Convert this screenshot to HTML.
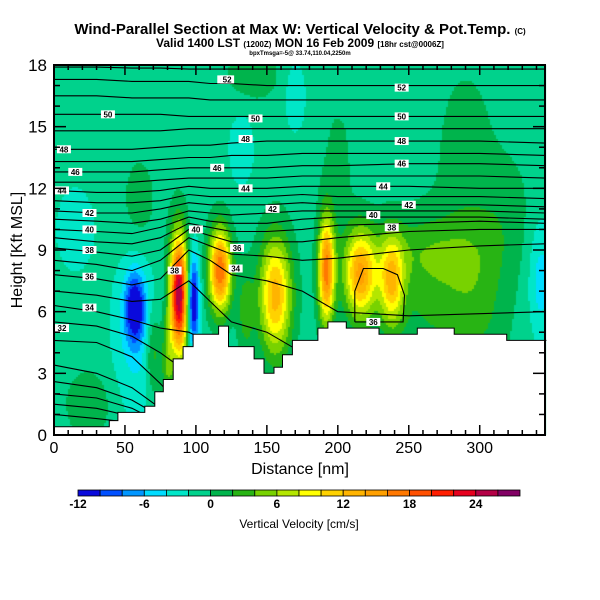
<!DOCTYPE html>
<html><head><meta charset="utf-8">
<style>
body{margin:0;background:#fff;width:600px;height:600px;overflow:hidden;font-family:"Liberation Sans",sans-serif;}
#wrap{position:relative;width:600px;height:600px;}
canvas{position:absolute;left:0;top:0;}
svg{position:absolute;left:0;top:0;}
</style></head>
<body>
<div id="wrap">
<canvas id="cv" width="600" height="600"></canvas>
<svg id="sv" width="600" height="600" xmlns="http://www.w3.org/2000/svg">
<text x="300" y="34" text-anchor="middle" font-size="15" font-weight="bold">Wind-Parallel Section at Max W: Vertical Velocity &amp; Pot.Temp. <tspan font-size="8">(C)</tspan></text>
<text x="300" y="47" text-anchor="middle" font-size="12" font-weight="bold">Valid 1400 LST <tspan font-size="8">(1200Z)</tspan> MON 16 Feb 2009 <tspan font-size="8">[18hr cst@0006Z]</tspan></text>
<text x="300" y="55" text-anchor="middle" font-size="6" font-weight="bold">bpxTmsga=-5@ 33.74,110.04,2250m</text>
<text x="300" y="474" text-anchor="middle" font-size="16">Distance [nm]</text>
<text transform="translate(22,250) rotate(-90)" text-anchor="middle" font-size="16">Height [Kft MSL]</text>
<text x="299" y="528" text-anchor="middle" font-size="12">Vertical Velocity [cm/s]</text>
</svg>
</div>
<script>
// ---- data ----
const colorLevels=[-12,-10,-8,-6,-4,-2,0,2,4,6,8,10,12,14,16,18,20,22,24,26,28];
const colorHex=["#0a0adc","#0050ff","#0096ff","#00dcff","#00e6c8","#00d28c","#00b44c","#28b414","#78d200","#b4e600","#ffff00","#ffd200","#ffb400","#ffa000","#ff7800","#ff5000","#ff1e00","#e6001e","#b40046","#820064"];
const colorbarTicks=[-12,-6,0,6,12,18,24];
const xTicks=[0,50,100,150,200,250,300];
const yTicks=[0,3,6,9,12,15,18];
const background=-1;
const blobX=[88,98,117,57,58,70,80,156,192,216,238,270,300,343,135,25,132,170,15,200,290,320,140,60,260];
const blobZ=[6.8,6.5,8.0,6.2,5.0,4.0,3.5,6.8,8.0,7.8,7.5,7.0,7.0,7.5,6.0,1.5,13.9,16.5,10.0,13,14,11,17.5,11,9];
const blobAmp=[27,-13,19,-10,-3.5,5,5,14,18,15,12,3.5,2.5,-4,4,2.5,-3,-3,-2.5,1.6,1.8,1.6,2,2,2.5];
const blobSX=[4.5,3,5.5,5,12,4,3,8,4,8,6,25,15,6,4,12,6,5,10,8,15,12,15,10,30];
const blobSZ=[2.0,1.6,1.4,1.2,3,1.5,1.5,2.0,1.8,1.5,1.5,2.5,3,2,1.5,1.2,1.2,1.2,1.5,2.5,3,2,1,2,1.2];
// terrain (nm, km)
const terrainX=[0,39,39,45,45,64,64,71,71,77,77,84,84,91,91,98,98,116,116,123,123,141,141,148,148,155,155,161,161,168,168,186,186,193,193,206,206,229,229,256,256,282,282,319,319,344,344,347];
const terrainZ=[0.4,0.4,0.7,0.7,1.1,1.1,1.4,1.4,2.1,2.1,2.7,2.7,3.7,3.7,4.3,4.3,4.9,4.9,5.3,5.3,4.3,4.3,3.7,3.7,3.0,3.0,3.3,3.3,3.9,3.9,4.6,4.6,5.2,5.2,5.5,5.5,5.2,5.2,4.9,4.9,5.2,5.2,4.9,4.9,4.6,4.6,4.6,4.6];
// potential temperature contours
const thetaNodes=[0,30,55,75,95,110,125,150,175,200,250,300,346];
const thetaLevels=[27,28,29,30,31,32,33,34,35,36,37,38,39,40,41,42,43,44,45,46,47,48,49,50,51,52,53];
const thetaZ=[
[1.0,0.8,0.6,-1,-1,-1,-1,-1,-1,-1,-1,-1,-1],
[1.5,1.3,0.9,0.2,-1,-1,-1,-1,-1,-1,-1,-1,-1],
[2.0,1.8,1.3,0.6,-1,-1,-1,-1,-1,-1,-1,-1,-1],
[2.6,2.3,1.7,0.9,-1,-1,-1,-1,-1,-1,-1,-1,-1],
[3.4,3.0,2.3,1.3,-1,-1,-1,-1,-1,-1,-1,-1,-1],
[4.6,4.5,3.8,2.5,1.0,-1,-1,-1,-1,-1,-1,-1,-1],
[5.5,5.3,4.8,4.0,3.0,2,-1,-1,-1,-1,-1,-1,-1],
[6.3,6.0,5.6,5.2,5.0,4.5,3,-1,-1,-1,-1,-1,-1],
[7.0,6.8,6.5,6.6,7.5,6.5,5.5,5,4,-1,-1,-1,-1],
[7.8,7.6,7.3,7.6,9.0,8.5,7.8,7.5,7.0,6.0,5.8,5.9,6.0],
[8.5,8.3,8.0,8.5,9.6,9.2,8.8,8.7,8.5,8.6,9.0,9.2,9.3],
[9.1,8.9,8.7,9.0,10.0,9.7,9.4,9.4,9.4,9.6,9.9,10.0,10.0],
[9.6,9.4,9.3,9.6,10.3,10.1,9.9,9.9,10.0,10.2,10.3,10.4,10.3],
[10.0,9.9,9.8,10.1,10.6,10.4,10.3,10.3,10.5,10.6,10.6,10.6,10.5],
[10.5,10.4,10.3,10.5,10.9,10.8,10.7,10.8,10.9,10.9,10.9,10.9,10.8],
[10.9,10.8,10.8,11.0,11.3,11.2,11.2,11.2,11.3,11.2,11.2,11.2,11.1],
[11.4,11.3,11.3,11.4,11.7,11.6,11.6,11.6,11.7,11.6,11.6,11.6,11.5],
[11.9,11.8,11.8,11.9,12.1,12.0,12.0,12.0,12.1,12.1,12.1,12.0,12.0],
[12.3,12.3,12.3,12.4,12.5,12.5,12.5,12.5,12.6,12.6,12.6,12.6,12.5],
[12.8,12.8,12.8,12.9,13.0,13.0,13.0,13.0,13.1,13.1,13.2,13.2,13.1],
[13.3,13.3,13.3,13.4,13.5,13.5,13.6,13.6,13.7,13.7,13.7,13.7,13.6],
[13.9,13.9,13.9,14.0,14.1,14.1,14.2,14.3,14.3,14.3,14.3,14.3,14.2],
[14.8,14.8,14.8,14.8,14.9,14.9,14.9,14.9,14.9,14.9,14.9,14.9,14.9],
[15.6,15.6,15.6,15.6,15.5,15.5,15.5,15.5,15.5,15.5,15.5,15.5,15.5],
[16.5,16.5,16.4,16.4,16.4,16.3,16.3,16.3,16.3,16.3,16.3,16.3,16.3],
[17.3,17.3,17.2,17.2,17.2,17.1,17.1,17.0,17.0,17.0,17.0,17.0,17.0],
[17.9,17.9,17.85,17.85,17.8,17.8,17.8,17.8,17.8,17.8,17.8,17.8,17.8]];
const loopX=[212,212,218,232,242,247,246,212];
const loopZ=[5.5,7.0,8.1,8.1,7.8,6.8,5.5,5.5];
const labelTheta=["32","34","36","38","40","42","44","46","48","50","52","38","40","42","44","46","48","50","52","36","38","40","42","44","46","48","50","52","34","36"];
const labelX=[5,25,25,25,25,25,-8,15,7,38,120,85,100,154,135,115,135,142,122,225,238,225,250,232,245,245,245,245,128,129];
const labelZ=[5.2,6.2,7.7,9.0,10.0,10.8,11.9,12.8,13.9,15.6,17.3,8.0,10.0,11.0,12.0,13.0,14.4,15.4,17.3,5.5,10.1,10.7,11.2,12.1,13.2,14.3,15.5,16.9,8.1,9.1];

// ---- axes ----
const X0=54,X1=545,Y0=435,Y1=65,XMAX=346,ZMAX=18;
const sx=v=>X0+(v/XMAX)*(X1-X0);
const sy=v=>Y0-(v/ZMAX)*(Y0-Y1);
function field(x,z){let v=background;for(let i=0;i<blobX.length;i++){const dx=(x-blobX[i])/blobSX[i],dz=(z-blobZ[i])/blobSZ[i];v+=blobAmp[i]*Math.exp(-0.5*(dx*dx+dz*dz));}return v;}
function colorFor(v){let k=0;while(k<colorHex.length-1&&v>=colorLevels[k+1])k++;return colorHex[k];}
const cv=document.getElementById('cv');const ctx=cv.getContext('2d');
const S=2;
for(let px=X0;px<X1;px+=S){for(let py=Y1;py<Y0;py+=S){const x=(px+S/2-X0)/(X1-X0)*XMAX;const z=(Y0-(py+S/2))/(Y0-Y1)*ZMAX;ctx.fillStyle=colorFor(field(x,z));ctx.fillRect(px,py,S,S);}}
const NS='http://www.w3.org/2000/svg';const sv=document.getElementById('sv');
function mk(tag,attrs){const e=document.createElementNS(NS,tag);for(const k in attrs)e.setAttribute(k,attrs[k]);sv.appendChild(e);return e;}
// contours
for(let i=0;i<thetaLevels.length;i++){let d='';let pen=false;for(let j=0;j<thetaNodes.length;j++){const z=thetaZ[i][j];if(z<0){pen=false;continue;}d+=(pen?'L':'M')+sx(thetaNodes[j]).toFixed(1)+' '+sy(z).toFixed(1);pen=true;}
const p=mk('path',{d:d,fill:'none',stroke:'#000','stroke-width':1.1});

}
{let d='';for(let j=0;j<loopX.length;j++)d+=(j?'L':'M')+sx(loopX[j]).toFixed(1)+' '+sy(loopZ[j]).toFixed(1);
const p=mk('path',{d:d,fill:'none',stroke:'#000','stroke-width':1.1});

}
// terrain
{let d='M'+sx(terrainX[0])+' '+Y0;for(let j=0;j<terrainX.length;j++)d+='L'+sx(terrainX[j]).toFixed(1)+' '+sy(terrainZ[j]).toFixed(1);d+='L'+X1+' '+sy(terrainZ[terrainZ.length-1])+'L'+X1+' '+Y0+'Z';
const p=mk('path',{d:d,fill:'#fff',stroke:'#000','stroke-width':1});

}
// labels
for(let i=0;i<labelTheta.length;i++){const x=Math.max(X0+8,sx(labelX[i])),y=sy(labelZ[i]);
const r=mk('rect',{x:x-7,y:y-4,width:14,height:8,fill:'#fff'});


const t=mk('text',{x:x,y:y+3,'text-anchor':'middle','font-size':8,'font-weight':'bold'});t.textContent=labelTheta[i];

}
// frame & ticks
{const f=mk('rect',{x:X0,y:Y1,width:X1-X0,height:Y0-Y1,fill:'none',stroke:'#000','stroke-width':2});

}
for(let v=0;v<=XMAX;v+=10){const L=v%50===0?10:5;const x=sx(v);
const a=mk('line',{x1:x,y1:Y0,x2:x,y2:Y0-L,stroke:'#000','stroke-width':1.5});


const b=mk('line',{x1:x,y1:Y1,x2:x,y2:Y1+L,stroke:'#000','stroke-width':1.5});

}
for(let v=0;v<=ZMAX;v+=1){const L=v%3===0?12:6;const y=sy(v);
const a=mk('line',{x1:X0,y1:y,x2:X0+L,y2:y,stroke:'#000','stroke-width':1.5});


const b=mk('line',{x1:X1,y1:y,x2:X1-L,y2:y,stroke:'#000','stroke-width':1.5});

}
xTicks.forEach(v=>{const t=mk('text',{x:sx(v),y:453,'text-anchor':'middle','font-size':16});t.textContent=v;

});
yTicks.forEach(v=>{const t=mk('text',{x:47,y:sy(v)+6,'text-anchor':'end','font-size':17});t.textContent=v;

});
// colorbar
const CB0=78,CB1=520,CBY=490,CBH=6;
const cbx=v=>CB0+(v-colorLevels[0])/(colorLevels[colorLevels.length-1]-colorLevels[0])*(CB1-CB0);
for(let i=0;i<colorHex.length;i++){const r=mk('rect',{x:cbx(colorLevels[i]),y:CBY,width:cbx(colorLevels[i+1])-cbx(colorLevels[i]),height:CBH,fill:colorHex[i],stroke:'#000','stroke-width':0.8});

}
colorbarTicks.forEach(v=>{const t=mk('text',{x:cbx(v),y:508,'text-anchor':'middle','font-size':12,'font-weight':'bold'});t.textContent=v;

});
</script>
</body></html>
